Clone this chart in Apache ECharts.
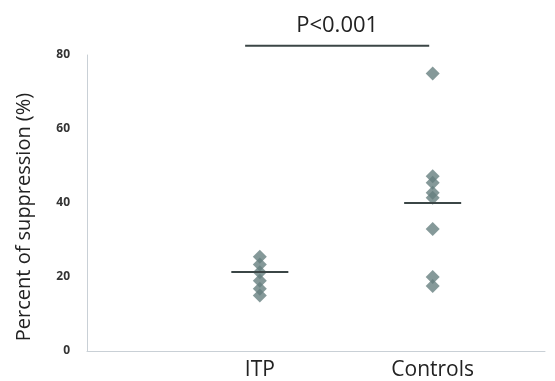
<!DOCTYPE html>
<html><head><meta charset="utf-8">
<script src="https://cdn.jsdelivr.net/npm/echarts@6/dist/echarts.min.js"></script>
<style>html,body{margin:0;padding:0;background:#fff}#c{width:555px;height:381px}</style>
</head><body><div id="c"></div>
<script>
const categories = ['ITP', 'Controls'];
const itpValues = [25.5, 23.4, 21.3, 19, 16.8, 15];
const controlValues = [75, 47.2, 45.5, 42.8, 41.4, 33, 20, 17.6];
const means = [21.3, 40];
const yTicks = [0, 20, 40, 60, 80];
const pText = 'P<0.001';
const pLevel = 82.5;
const halfWidth = 0.165;

const chart = echarts.init(document.getElementById('c'), null, {renderer: 'canvas'});
const ptColor = '#677f80';
function meanLine(i) {
  const c = i + 1;
  return {
    silent: true, symbol: 'none', label: {show: false},
    lineStyle: {color: '#3b4646', width: 2, type: 'solid'},
    data: [[{coord: [c - halfWidth, means[i]]}, {coord: [c + halfWidth, means[i]]}]]
  };
}
chart.setOption({
  animation: false,
  grid: {left: 87, right: 10, top: 55, bottom: 29, containLabel: false},
  xAxis: {
    type: 'value', min: 0, max: 2.65, interval: 1,
    axisLine: {show: true, lineStyle: {color: '#c9d0d6', width: 1}},
    axisTick: {show: false}, splitLine: {show: false},
    axisLabel: {
      margin: 9, fontSize: 21, color: '#222', fontFamily: 'Open Sans',
      formatter: v => (Math.round(v) >= 1 && Math.round(v) <= categories.length && Math.abs(v - Math.round(v)) < 1e-6) ? categories[Math.round(v) - 1] : ''
    }
  },
  yAxis: {
    type: 'value', min: yTicks[0], max: yTicks[yTicks.length - 1], interval: 20,
    name: 'Percent of suppression (%)', nameLocation: 'middle', nameGap: 53,
    nameTextStyle: {fontSize: 20, color: '#222', fontFamily: 'Open Sans', padding: [0, 28, 0, 0]},
    axisLine: {show: true, lineStyle: {color: '#c9d0d6', width: 1}},
    axisTick: {show: false}, splitLine: {show: false},
    axisLabel: {margin: 17, fontSize: 12, color: '#333', fontWeight: 'bold', fontFamily: 'Open Sans'}
  },
  series: [
    {
      type: 'scatter', symbol: 'diamond', symbolSize: 14,
      itemStyle: {color: ptColor},
      data: itpValues.map(v => [1, v]),
      markLine: meanLine(0)
    },
    {
      type: 'scatter', symbol: 'diamond', symbolSize: 14,
      itemStyle: {color: ptColor},
      data: controlValues.map(v => [2, v]),
      markLine: meanLine(1)
    }
  ]
});
const p1 = chart.convertToPixel({gridIndex: 0}, [0.915, pLevel]);
const p2 = chart.convertToPixel({gridIndex: 0}, [1.98, pLevel]);
chart.setOption({
  graphic: [
    {type: 'line', shape: {x1: p1[0], y1: p1[1], x2: p2[0], y2: p2[1]}, style: {stroke: '#3b4646', lineWidth: 2}},
    {type: 'text', x: (p1[0] + p2[0]) / 2, y: p1[1] - 9, style: {text: pText, fontSize: 22, fill: '#222', fontFamily: 'Open Sans', align: 'center', verticalAlign: 'bottom'}}
  ]
});
</script></body></html>
